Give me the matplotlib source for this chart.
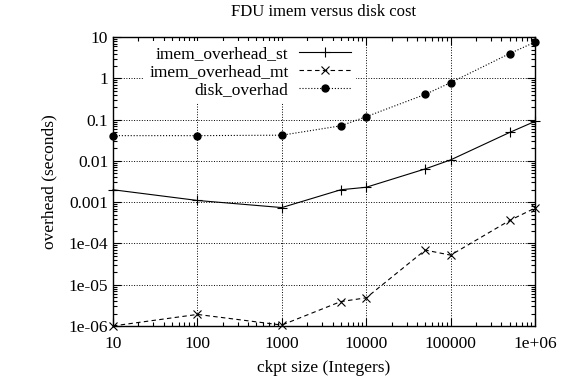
import matplotlib
matplotlib.use('Agg')
import matplotlib.pyplot as plt
from matplotlib.ticker import FixedLocator, FixedFormatter, LogLocator, NullFormatter

plt.rcParams['font.family'] = ['Liberation Serif', 'DejaVu Serif']

# ckpt size (Integers)
sizes = [10, 100, 1000, 5000, 10000, 50000, 100000, 500000, 1000000]
imem_st = [0.002, 0.0011, 0.00074, 0.002, 0.0023, 0.0064, 0.0106, 0.049, 0.091]
imem_mt = [1.0e-6, 1.9e-6, 1.05e-6, 3.9e-6, 4.8e-6, 6.9e-5, 5.2e-5, 3.6e-4, 7.2e-4]
disk = [0.041, 0.041, 0.042, 0.071, 0.118, 0.41, 0.79, 4.0, 7.6]

xticks = [10, 100, 1000, 10000, 100000, 1000000]
xlabels = ['10', '100', '1000', '10000', '100000', '1e+06']
yticks = [1e-6, 1e-5, 1e-4, 1e-3, 1e-2, 1e-1, 1, 10]
ylabels = ['1e-06', '1e-05', '1e-04', '0.001', '0.01', '0.1', '1', '10']

fig = plt.figure(figsize=(5.65, 3.83), dpi=100)
ax = fig.add_axes([0.2, 0.149, 0.747, 0.754])

ax.plot(sizes, imem_st, '-', color='black', lw=0.8, marker='+', ms=7, mew=0.8,
        label='imem_overhead_st', clip_on=False, zorder=3)
ax.plot(sizes, imem_mt, '--', color='black', lw=0.8, marker='x', ms=5.5, mew=0.8,
        dashes=(4, 3), label='imem_overhead_mt', clip_on=False, zorder=3)
ax.plot(sizes, disk, ':', color='black', lw=0.8, marker='o', ms=5,
        label='disk_overhad', clip_on=False, zorder=3)

ax.set_xscale('log')
ax.set_yscale('log')
ax.set_xlim(10, 1e6)
ax.set_ylim(1e-6, 10)

ax.xaxis.set_major_locator(FixedLocator(xticks))
ax.xaxis.set_major_formatter(FixedFormatter(xlabels))
ax.yaxis.set_major_locator(FixedLocator(yticks))
ax.yaxis.set_major_formatter(FixedFormatter(ylabels))
ax.xaxis.set_minor_locator(LogLocator(base=10, subs=range(2, 10), numticks=20))
ax.yaxis.set_minor_locator(LogLocator(base=10, subs=range(2, 10), numticks=20))
ax.xaxis.set_minor_formatter(NullFormatter())
ax.yaxis.set_minor_formatter(NullFormatter())

ax.tick_params(which='both', direction='in', top=True, right=True, labelsize=12.5)
ax.tick_params(which='major', length=6, width=0.8)
ax.tick_params(which='minor', length=3, width=0.8)
ax.tick_params(axis='x', pad=7)
for s in ax.spines.values():
    s.set_linewidth(1.0)

ax.grid(True, which='major', linestyle=':', color='black', lw=0.7)

ax.set_title('FDU imem versus disk cost', fontsize=12, pad=15)
ax.set_xlabel('ckpt size (Integers)', fontsize=12.5, labelpad=6)
ax.set_ylabel('overhead (seconds)', fontsize=12.5, labelpad=8)

leg = ax.legend(loc='upper right', bbox_to_anchor=(0.585, 1.0), markerfirst=False,
                frameon=True, fancybox=False, edgecolor='none', facecolor='white',
                framealpha=1, fontsize=12.5, handlelength=3.0, handletextpad=0.6,
                labelspacing=0.1, borderpad=0.3, borderaxespad=0.2)
leg.set_zorder(5)

fig.savefig('out.png', dpi=100)
